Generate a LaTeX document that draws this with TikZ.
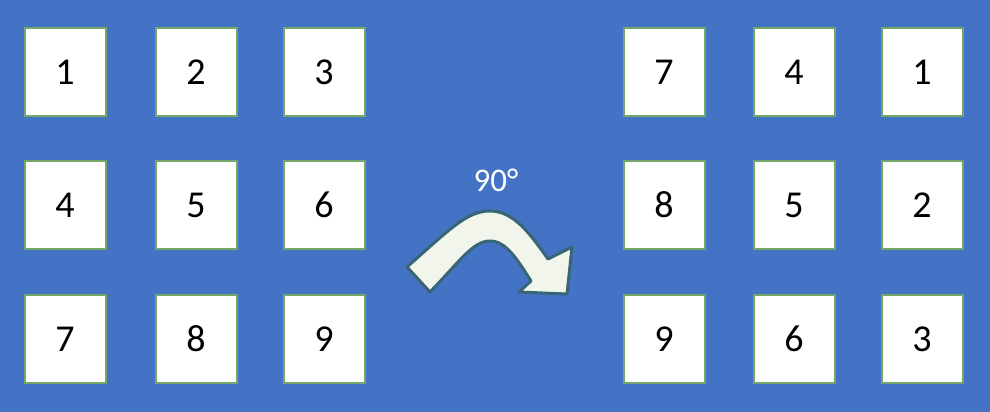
\documentclass[tikz,border=0pt]{standalone}
\usepackage{fontspec}
\setmainfont{Carlito}
\usepackage{tikz}
\definecolor{slide}{RGB}{68,114,196}
\definecolor{tileline}{RGB}{116,166,104}
\definecolor{arrowline}{RGB}{56,102,116}
\definecolor{arrowfill}{RGB}{242,245,236}
\tikzstyle{tile} = [rectangle, draw=tileline, line width=2pt, fill=white,
                 minimum width=81pt, minimum height=88pt, inner sep=0pt,
                 font=\fontsize{38}{42}\selectfont]
\tikzset{
	turn/.style={draw=arrowline, line width=3pt, fill=arrowfill, line join=round},
	angle label/.style={text=white, font=\fontsize{33}{37}\selectfont},
}

\begin{document}
\begin{tikzpicture}[x=1pt, y=-1pt]

\fill[slide] (0,0) rectangle (990,412);
\useasboundingbox (0,0) rectangle (990,412);

    	%before
\foreach \n/\x/\y in {1/65/72, 2/196/72, 3/324/72,
                      4/65/205, 5/196/205, 6/324/205,
                      7/65/339, 8/196/339, 9/324/339}
	\node [tile] (a\n) at (\x,\y) {\n};

    	%after
\foreach \n/\x/\y in {7/664/72, 4/794/72, 1/922/72,
                      8/664/205, 5/794/205, 2/922/205,
                      9/664/339, 6/794/339, 3/922/339}
	\node [tile] (b\n) at (\x,\y) {\n};

\path[turn] (407,267) .. controls (450,229) and (467,211) .. (490,211)
	.. controls (513,211) and (529,232) .. (548,259)
	-- (572,247) -- (567,294) -- (519,292) -- (531,281)
	.. controls (517,259) and (506,241) .. (490,241)
	.. controls (473,241) and (460,261) .. (430,292) -- cycle;

\node [angle label] (deg) at (496,180) {90°};

\end{tikzpicture}
\end{document}
